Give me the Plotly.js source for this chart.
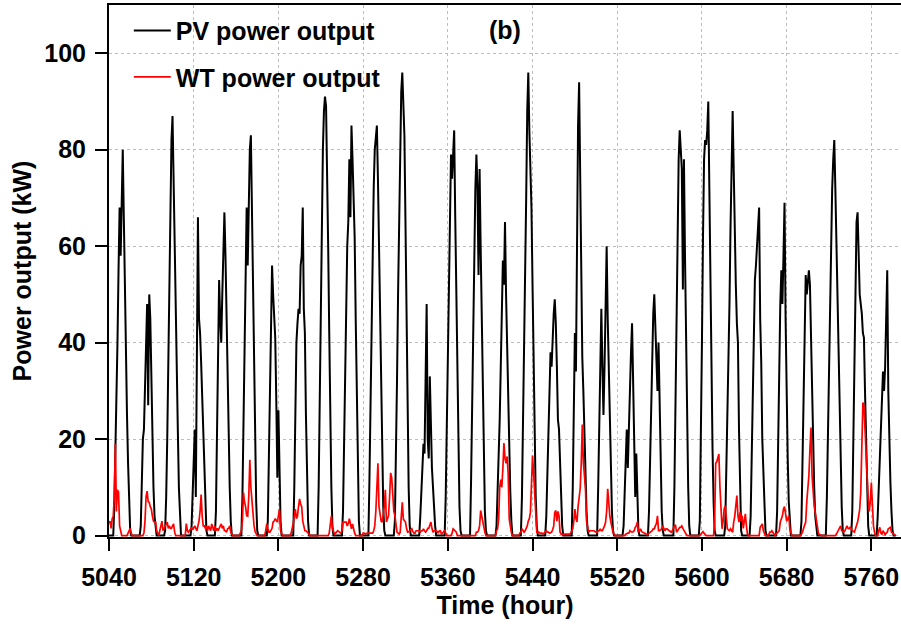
<!DOCTYPE html>
<html>
<head>
<meta charset="utf-8">
<script src="https://cdn.plot.ly/plotly-3.0.1.min.js"></script>
<style>html,body{margin:0;padding:0;background:#fff}#chart{width:901px;height:624px}</style>
</head>
<body>
<div id="chart"></div>
<script>
// First hour of the series (hour-of-year index)
const startHour = 5040;

// PV power output (kW), one row of 24 hourly values per day
const pvByDay = [
  [0,0,0,0,0,6,16,28,40,55,68,58,70,80,66,50,34,25,15,6,1,0,0,0],
  [0,0,0,0,0,0,2,10,20,22,30,40,48,27,50,45,32,20,10,4,1,0,0,0],
  [0,0,0,0,0,1,8,20,38,55,70,82,87,72,63,50,36,22,10,3,0,0,0,0],
  [0,0,0,0,0,0,2,8,15,22,8,35,66,45,42,36,28,20,12,5,1,0,0,0],
  [0,0,0,0,0,5,18,35,53,45,40,50,58,67,58,45,32,20,10,3,0,0,0,0],
  [0,0,0,0,0,0,8,22,38,52,68,56,72,80,83,66,48,32,18,7,1,0,0,0],
  [0,0,0,0,0,0,3,15,30,44,56,50,44,41,28,12,26,11,3,0,0,0,0,0],
  [0,0,0,0,0,0,0,10,25,40,44,47,46,56,58,68,47,42,25,10,3,0,0,0],
  [0,0,0,0,0,0,10,28,48,66,80,88,91,89,78,60,42,24,10,2,0,0,0,0],
  [0,0,0,0,0,5,18,35,50,60,65,78,66,85,78,70,62,45,28,12,3,0,0,0],
  [0,0,0,0,0,0,12,28,45,60,72,80,82,85,74,60,45,30,16,6,1,0,0,0],
  [0,0,0,0,0,0,3,15,32,50,68,82,92,96,88,83,65,45,25,10,2,0,0,0],
  [0,0,0,0,0,0,4,10,15,19,17,30,48,20,16,33,20,14,10,5,2,0,0,0],
  [0,0,0,0,0,0,8,22,40,50,62,79,74,80,84,66,48,30,16,6,1,0,0,0],
  [0,0,0,0,0,0,12,30,48,62,72,79,72,54,76,60,44,28,15,5,1,0,0,0],
  [0,0,0,0,0,0,2,8,18,24,35,48,57,52,65,50,39,28,18,9,3,0,0,0],
  [0,0,0,0,0,0,8,22,35,50,70,88,96,84,75,68,52,36,20,8,2,0,0,0],
  [0,0,0,0,0,4,12,22,32,38,35,42,46,49,44,35,24,22,14,6,2,0,0,0],
  [0,0,0,0,0,0,10,25,42,34,65,85,94,70,45,37,30,20,12,5,1,0,0,0],
  [0,0,0,0,0,0,10,25,40,47,35,25,35,48,60,45,34,22,12,5,1,0,0,0],
  [0,0,0,0,0,0,2,8,15,22,14,24,30,38,44,31,20,8,17,6,1,0,0,0],
  [0,0,0,0,0,0,5,15,28,40,46,50,44,36,30,40,25,12,5,1,0,0,0,0],
  [0,0,0,0,0,0,10,28,48,65,78,84,80,76,51,78,58,40,24,10,2,0,0,0],
  [0,0,0,0,0,0,3,18,40,62,78,82,81,84,90,72,52,34,18,7,1,0,0,0],
  [0,0,0,0,0,0,2,12,24,33,48,64,78,88,76,62,52,44,40,22,8,1,0,0],
  [0,0,0,0,0,0,4,18,34,46,53,56,60,64,68,45,36,20,15,7,1,0,0,0],
  [0,0,0,0,0,0,0,5,20,36,48,55,48,58,69,45,28,16,7,2,0,0,0,0],
  [0,0,0,0,0,0,3,15,32,46,54,50,53,55,52,42,26,18,10,4,1,0,0,0],
  [0,0,0,0,0,0,8,22,38,52,64,72,78,82,72,60,48,38,30,18,6,1,0,0],
  [0,0,0,0,0,0,5,20,40,58,65,67,58,50,48,46,42,41,30,18,8,2,0,0],
  [0,0,0,0,0,0,4,10,18,22,30,34,30,35,45,55,30,17,11,5,1,0,0,0]
];

// WT power output (kW), one row of 24 hourly values per day
const wtByDay = [
  [2.5,3,1.5,3.5,4,8,19,5,9.5,9,2,0.5,0,0,0,0,0,0,0.5,1,1.5,0.5,0,0],
  [0,0,0,0,0,0,0,0,0,0.5,3,8,9.2,7,6.9,6,5.5,4,3,2.8,2.8,1,0.3,0],
  [1,2,3,1,1.5,1.7,2.5,2.8,1.5,2,1.5,1.5,2,2.4,0.7,0,0,0,0,0,0,0,0,0],
  [0,2.5,1,0.7,1,1.2,1.7,1.2,1.5,2,1.5,1,2,3,5,8.5,4,2,2,1.5,2,1,2,1.5],
  [1,2.4,1.5,1,2,1,1.5,1,1.5,2,2.4,1.5,2,1,1,0.7,1.4,1.5,2,0.7,0.3,0,0,0],
  [0,0,0,0,0.5,1,3,8.9,7,6,4.1,4,8,15.7,10,7,3,2,0.8,0.3,0,0,0,0],
  [0,0,0,0,1,2.4,1.5,0.7,0.7,1,1.5,2.8,3,3.5,3,2.8,4.1,5.5,1,0.3,0,0,0,0],
  [0,0,0,0,0.5,1.4,2.5,4,5.5,3.5,4,6,7.6,6.5,6,3,2,1,1,0.8,0.7,0.3,0,0],
  [0,0,0,0,0,0,0,0,0,0,0,0,0,0,0,0,0.5,2,4.1,1.5,0.7,0.3,0.5,0.8],
  [1,0.8,0.7,0.5,1,2.8,2.8,2.8,2.8,2,2.5,3.5,2,1.4,2.4,1,0.5,0,0,0,0,0,0,0],
  [0.5,0.5,0.3,0.5,0.5,0.5,0.5,0.5,0.5,0.5,1,2,5,9,15,6,4,3,2.8,4,6,9.5,2.8,3.5],
  [4.1,8,13,12,7,5,4.2,2,0.7,0.5,0.3,0.7,3,6.9,3.4,3,2.8,1.5,0.7,0.8,1,1,1.4,0.8],
  [0.5,0.5,1,1,1,1,0.7,1,1,1.4,1,0.7,1,1.5,1.5,2,2.8,1.5,0.7,1,1,1,0.8,0.5],
  [1,1,0.3,0.5,0.8,1,0.5,0,0,0,0,0,0.5,1.4,1.2,1,0.7,0,0,0,0,0,0,0],
  [0,0,0,0,0,0,0,0,0,0,0,0.7,0.7,1,2,5.2,4,2.8,1.5,0.7,0,0,0,0],
  [0,0,0,0,0,0,1,1.4,3.4,10,11.6,10,14,19.2,16,15,16.4,12.8,3.4,1.5,0.7,0,0,0],
  [0,0,0,0,0.5,0.7,1.4,1,0.7,1,1.5,2,3,3.5,4.8,10,16.6,13.1,8,4.1,0.7,0.7,0.7,0.5],
  [0.5,0.5,0.3,0.5,0.8,1,0.7,0.7,0.5,0.7,0.7,1.2,2,4.8,5.2,3,5,4.1,0.7,0.3,0.3,0.3,0.3,0.3],
  [0.3,0.3,0.3,0.3,0.5,1,1.4,3,5.5,3.5,2.8,6,8.3,9.7,15,23,15.2,12,9.7,3,1.5,0.7,1,1],
  [1,1,1,0.8,0.7,0.7,1,1,1.4,1,1,1.4,2,2.8,5,9.7,6.2,4,2.8,1.5,0.7,0.3,0,0],
  [0,0,0,0,0,0,0,0,0.3,0.5,0.5,0.5,1,0.8,0.7,0.8,1,1.7,2,2.8,0.7,1,1.4,0.8],
  [0.7,0.7,0.5,0.3,0.2,0.3,0.5,0.7,0.7,1,1.4,1.4,2,2.5,4.1,1,1,1.2,1.4,2,1.5,1,1.4,1.4],
  [1.2,1,0.7,0.7,1,1.7,2,2.2,0.7,1,1.4,1.7,1.7,2,1.5,1,0.7,0.3,0,0,0,0,0,0],
  [0,0,0,0,0,0,0,0.3,0.7,0.8,0.5,0.2,0,0,0,0,0,0,0,0,3,15,15.3,16],
  [16.9,10,5,1.4,3,5.5,6.2,3,1.4,1.2,1,1.4,1,0.7,2.8,4,6.2,8.3,4.1,2.8,4.8,3,4.1,1.5],
  [3,4.5,2,0.3,0,0,0,0,0,0,0,0,0,0,0,1.7,2,2.4,1,0.3,0,0,0,0],
  [0.7,0.7,1,0.7,0.3,0,0.3,0.5,0.7,1,2.8,3.5,4.1,5.5,6,4.5,3,3.5,4.1,1.4,0.7,0,0,0],
  [0,0,0,0,0,0,0.3,0.7,1.5,2,2.8,7,10,12.4,18,22.4,12.4,9,6.2,4.8,3,1.4,0.5,0.2],
  [0,0,0,0,0,0,0,0,0,0,0,0,0,0,0,0.3,0.7,1,1.4,2,1,0.8,0.7,1],
  [1.4,2,1.5,1.4,1.7,1.5,1,0.8,0.7,1.4,2,2.8,4,5.5,9,18,27.6,27,22,14.5,9.7,7.6,5,7],
  [11,6,2,0.7,0,0,0,1,1.7,0.5,0.3,1,0.5,0.2,0.5,0.7,1.4,1.5,1.7,0.7,0.5,0.3,0,0]
];

const xTicks = [5040,5120,5200,5280,5360,5440,5520,5600,5680,5760];
const yTicks = [0,20,40,60,80,100];
const seriesNames = ['PV power output', 'WT power output'];

const pv = pvByDay.flat();
const wt = wtByDay.flat();
const hours = pv.map((_, i) => startHour + i);

const FONT = 'Arial, "Liberation Sans", sans-serif';
const boldFont = (size) => ({family: FONT, size: size, color: '#000', weight: 'bold'});

const traces = [
  {x: hours, y: pv, type: 'scatter', mode: 'lines', name: seriesNames[0], legendgroup: 'pv',
   line: {color: '#000000', width: 2}},
  {x: hours, y: wt, type: 'scatter', mode: 'lines', name: seriesNames[1], legendgroup: 'wt',
   line: {color: '#ff0000', width: 1.7}}
];

const layout = {
  width: 901, height: 624,
  margin: {l: 109, r: 0, t: 5, b: 87},
  paper_bgcolor: '#ffffff', plot_bgcolor: '#ffffff',
  showlegend: true,
  legend: {x: 0.025, y: 0.995, xanchor: 'left', yanchor: 'top', font: boldFont(25),
           bgcolor: 'rgba(0,0,0,0)', borderwidth: 0, tracegroupgap: 11, itemwidth: 37,
           traceorder: 'grouped'},
  xaxis: {
    range: [5040, 5788], tickvals: xTicks, ticktext: xTicks.map(String),
    ticks: 'outside', ticklen: 12, tickwidth: 2, tickcolor: '#000',
    showline: true, linewidth: 2, linecolor: '#000', mirror: true,
    showgrid: true, gridcolor: '#bdbdbd', griddash: 'dot', gridwidth: 1,
    zeroline: false, layer: 'below traces',
    tickfont: boldFont(25), ticklabelstandoff: 5,
    title: {text: 'Time (hour)', font: boldFont(25), standoff: 6}
  },
  yaxis: {
    range: [-0.3, 110], tickvals: yTicks, ticktext: yTicks.map(String),
    ticks: 'outside', ticklen: 12, tickwidth: 2, tickcolor: '#000',
    showline: true, linewidth: 2, linecolor: '#000', mirror: true,
    showgrid: true, gridcolor: '#bdbdbd', griddash: 'dot', gridwidth: 1,
    zeroline: false, layer: 'below traces',
    tickfont: boldFont(25), ticklabelstandoff: 4,
    title: {text: 'Power output (kW)', font: boldFont(25), standoff: 6}
  },
  annotations: [
    {text: '(b)', xref: 'paper', yref: 'paper', x: 0.5, y: 0.953, xanchor: 'center', yanchor: 'middle',
     showarrow: false, font: boldFont(25)}
  ]
};

Plotly.newPlot('chart', traces, layout, {displayModeBar: false, staticPlot: true});
</script>
</body>
</html>
